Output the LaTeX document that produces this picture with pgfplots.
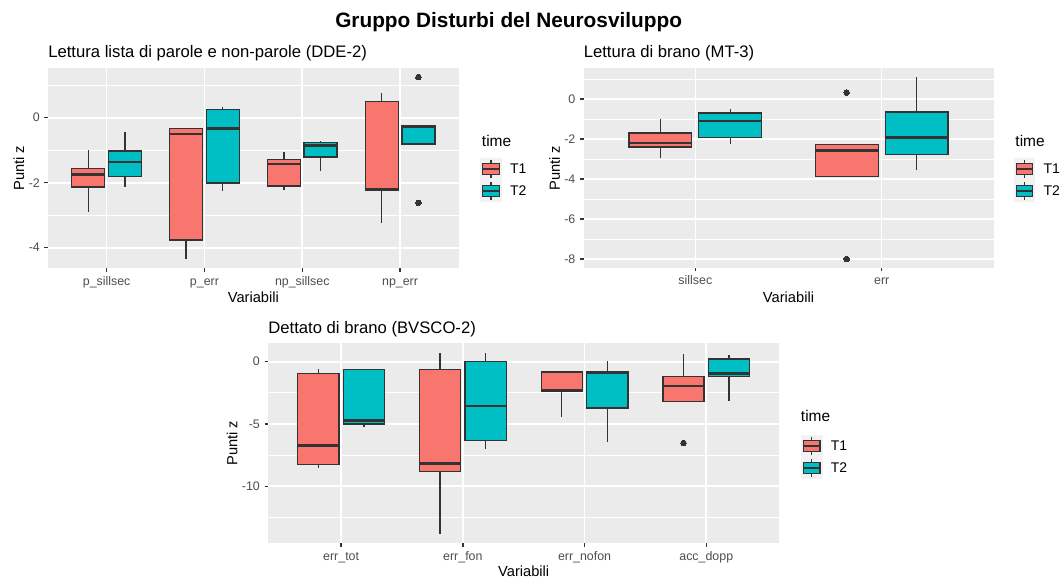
\documentclass[border=0pt]{standalone}
\usepackage{fontspec}
\setmainfont{Liberation Sans}
\usepackage{pgfplots}
\pgfplotsset{compat=1.18}
\newdimen\PX \PX=0.75pt
\definecolor{cT1}{HTML}{F8766D}
\definecolor{cT2}{HTML}{00BFC4}
\definecolor{gray92}{HTML}{EBEBEB}
\definecolor{gray95}{HTML}{F2F2F2}
\definecolor{gray20}{HTML}{333333}
\definecolor{gray30}{HTML}{4D4D4D}
% box: left, right, centre, colour, lower whisker, lower quartile, median, upper quartile, upper whisker
\newcommand{\bx}[9]{%
\addplot[draw=gray20, line width=1.3\PX, forget plot] coordinates {(#3,#5) (#3,#6)};
\addplot[draw=gray20, line width=1.3\PX, forget plot] coordinates {(#3,#8) (#3,#9)};
\addplot[fill=#4, draw=gray20, line width=1.3\PX, forget plot] coordinates {(#1,#6) (#2,#6) (#2,#8) (#1,#8)} -- cycle;
\addplot[draw=gray20, line width=2.6\PX, forget plot] coordinates {(#1,#7) (#2,#7)};
}
\newcommand{\outl}[1]{\addplot[only marks, mark=*, mark size=2.8\PX, mark options={fill=gray20, draw=gray20, line width=0pt}, forget plot] coordinates {#1};}
\pgfplotsset{gg/.style={
 scale only axis, anchor=south west,
 axis background/.style={fill=gray92},
 axis line style={draw=none},
 tick pos=left, tick align=outside,
 major tick length=3.5\PX, minor tick length=0pt,
 every tick/.style={draw=gray20, line width=1.3\PX},
 xmajorgrids, ymajorgrids, yminorgrids,
 major grid style={white, line width=1.6\PX},
 minor grid style={white, line width=0.8\PX},
 ticklabel style={font=\fontsize{9.3}{11}\selectfont, text=gray30},
 xticklabel style={text height=0.72em, text depth=0.21em, inner sep=0pt, yshift=-3.5\PX},
 /pgf/number format/assume math mode=true,
 label style={font=\fontsize{11}{13}\selectfont},
 xlabel={Variabili}, ylabel={Punti z},
}}
\pgfplotsset{keyax/.style={scale only axis, anchor=south west, width=21.9\PX, height=43.8\PX,
 xmin=0, xmax=1, ymin=0, ymax=2, hide axis, clip=false}}
\newcommand{\keys}{%
\addplot[fill=gray95, draw=none] coordinates {(0,0) (1,0) (1,2) (0,2)} -- cycle;
\addplot[draw=gray20, line width=1.3\PX] coordinates {(0.5,1.1) (0.5,1.25)};
\addplot[draw=gray20, line width=1.3\PX] coordinates {(0.5,1.75) (0.5,1.9)};
\addplot[fill=cT1, draw=gray20, line width=1.3\PX] coordinates {(0.125,1.25) (0.875,1.25) (0.875,1.75) (0.125,1.75)} -- cycle;
\addplot[draw=gray20, line width=2.6\PX] coordinates {(0.125,1.5) (0.875,1.5)};
\addplot[draw=gray20, line width=1.3\PX] coordinates {(0.5,0.1) (0.5,0.25)};
\addplot[draw=gray20, line width=1.3\PX] coordinates {(0.5,0.75) (0.5,0.9)};
\addplot[fill=cT2, draw=gray20, line width=1.3\PX] coordinates {(0.125,0.25) (0.875,0.25) (0.875,0.75) (0.125,0.75)} -- cycle;
\addplot[draw=gray20, line width=2.6\PX] coordinates {(0.125,0.5) (0.875,0.5)};
}
\begin{document}
\begin{tikzpicture}
\path[use as bounding box] (0,0) rectangle (1062\PX,578\PX);
% ---------- Panel 1 ----------
\begin{axis}[gg, at={(48\PX,309.8\PX)}, width=410.7\PX, height=200.2\PX,
 xmin=0.4, xmax=4.6, ymin=-4.63, ymax=1.53,
 xtick={1,2,3,4}, xticklabels={p\_sillsec,p\_err,np\_sillsec,np\_err},
 ytick={-4,-2,0}, minor ytick={-3,-1,1},
 xlabel style={at={(axis description cs:0.5,-0.144)}, anchor=center},
 ylabel style={at={(axis description cs:-0.0706,0.5)}, anchor=center}]
\bx{0.64375}{0.98125}{0.8125}{cT1}{-2.89}{-2.13}{-1.75}{-1.57}{-0.99}
\bx{1.01875}{1.35625}{1.1875}{cT2}{-2.12}{-1.81}{-1.36}{-1.02}{-0.45}
\bx{1.64375}{1.98125}{1.8125}{cT1}{-4.35}{-3.76}{-0.50}{-0.33}{-0.33}
\bx{2.01875}{2.35625}{2.1875}{cT2}{-2.26}{-2.01}{-0.34}{0.25}{0.32}
\bx{2.64375}{2.98125}{2.8125}{cT1}{-2.23}{-2.10}{-1.42}{-1.28}{-1.07}
\bx{3.01875}{3.35625}{3.1875}{cT2}{-1.64}{-1.21}{-0.85}{-0.76}{-0.72}
\bx{3.64375}{3.98125}{3.8125}{cT1}{-3.25}{-2.22}{-2.19}{0.49}{0.75}
\bx{4.01875}{4.35625}{4.1875}{cT2}{-0.81}{-0.81}{-0.28}{-0.24}{-0.24}
\outl{(4.1875,1.25) (4.1875,-2.62)}
\end{axis}
% ---------- Panel 2 ----------
\begin{axis}[gg, at={(583.5\PX,310\PX)}, width=410\PX, height=199.6\PX,
 xmin=0.4, xmax=2.6, ymin=-8.45, ymax=1.53,
 xtick={1,2}, xticklabels={sillsec,err},
 ytick={-8,-6,-4,-2,0}, minor ytick={-7,-5,-3,-1,1},
 xlabel style={at={(axis description cs:0.5,-0.145)}, anchor=center},
 ylabel style={at={(axis description cs:-0.0707,0.5)}, anchor=center}]
\bx{0.64375}{0.98125}{0.8125}{cT1}{-2.97}{-2.40}{-2.20}{-1.70}{-1.02}
\bx{1.01875}{1.35625}{1.1875}{cT2}{-2.23}{-1.93}{-1.10}{-0.70}{-0.50}
\bx{1.64375}{1.98125}{1.8125}{cT1}{-3.87}{-3.87}{-2.58}{-2.27}{-2.27}
\bx{2.01875}{2.35625}{2.1875}{cT2}{-3.53}{-2.78}{-1.93}{-0.65}{1.08}
\outl{(1.8125,0.32) (1.8125,-8.0)}
\end{axis}
% ---------- Panel 3 ----------
\begin{axis}[gg, at={(268.1\PX,34.7\PX)}, width=511.2\PX, height=200\PX,
 xmin=0.4, xmax=4.6, ymin=-14.59, ymax=1.48,
 xtick={1,2,3,4}, xticklabels={err\_tot,err\_fon,err\_nofon,acc\_dopp},
 ytick={-10,-5,0}, minor ytick={-12.5,-7.5,-2.5},
 xlabel style={at={(axis description cs:0.5,-0.1385)}, anchor=center},
 ylabel style={at={(axis description cs:-0.0706,0.5)}, anchor=center}]
\bx{0.64375}{0.98125}{0.8125}{cT1}{-8.53}{-8.26}{-6.73}{-0.97}{-0.62}
\bx{1.01875}{1.35625}{1.1875}{cT2}{-5.23}{-5.01}{-4.72}{-0.62}{-0.62}
\bx{1.64375}{1.98125}{1.8125}{cT1}{-13.86}{-8.82}{-8.18}{-0.64}{0.72}
\bx{2.01875}{2.35625}{2.1875}{cT2}{-7.00}{-6.35}{-3.57}{0.03}{0.72}
\bx{2.64375}{2.98125}{2.8125}{cT1}{-4.45}{-2.36}{-2.31}{-0.83}{-0.83}
\bx{3.01875}{3.35625}{3.1875}{cT2}{-6.46}{-3.73}{-0.88}{-0.83}{0.03}
\bx{3.64375}{3.98125}{3.8125}{cT1}{-3.19}{-3.19}{-1.96}{-1.21}{0.59}
\bx{4.01875}{4.35625}{4.1875}{cT2}{-3.16}{-1.21}{-0.94}{0.21}{0.56}
\outl{(3.8125,-6.54)}
\end{axis}
% ---------- legend keys ----------
\begin{axis}[keyax, at={(480\PX,376.1\PX)}] \keys \end{axis}
\begin{axis}[keyax, at={(1013.5\PX,376.1\PX)}] \keys \end{axis}
\begin{axis}[keyax, at={(800.7\PX,99.05\PX)}] \keys \end{axis}
% ---------- texts ----------
\node[anchor=base west, inner sep=0pt, font=\fontsize{15.6}{18}\selectfont\bfseries] at (335\PX,550.5\PX) {Gruppo Disturbi del Neurosviluppo};
\node[anchor=base west, inner sep=0pt, font=\fontsize{12.5}{15}\selectfont] at (48\PX,520\PX) {Lettura lista di parole e non-parole (DDE-2)};
\node[anchor=base west, inner sep=0pt, font=\fontsize{12.5}{15}\selectfont] at (583.5\PX,520\PX) {Lettura di brano (MT-3)};
\node[anchor=base west, inner sep=0pt, font=\fontsize{12.5}{15}\selectfont] at (268.1\PX,244\PX) {Dettato di brano (BVSCO-2)};
\begin{scope}[every node/.style={inner sep=0pt, font=\fontsize{11.6}{14}\selectfont}]
\node[anchor=base west] at (481.7\PX,431.4\PX) {time};
\node[anchor=base west] at (1015.2\PX,431.4\PX) {time};
\node[anchor=base west] at (800.7\PX,156.4\PX) {time};
\end{scope}
\begin{scope}[every node/.style={inner sep=0pt, anchor=west, font=\fontsize{10.5}{12}\selectfont}]
\node at (509.9\PX,409\PX) {T1};
\node at (509.9\PX,387\PX) {T2};
\node at (1043.4\PX,409\PX) {T1};
\node at (1043.4\PX,387\PX) {T2};
\node at (830.6\PX,132\PX) {T1};
\node at (830.6\PX,110\PX) {T2};
\end{scope}
\end{tikzpicture}
\end{document}
